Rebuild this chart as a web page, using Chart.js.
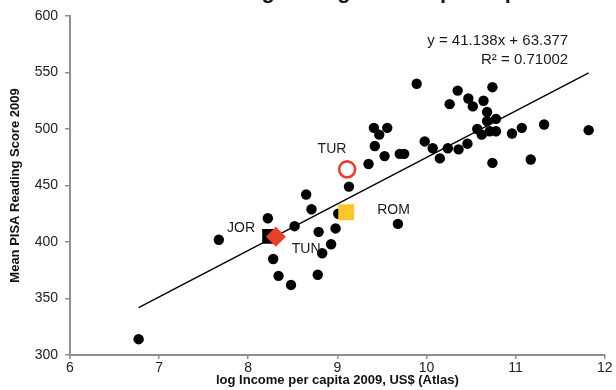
<!DOCTYPE html>
<html lang="en">
<head>
  <meta charset="UTF-8" />
  <title>PISA Reading vs log Income</title>
  <script src="https://cdn.jsdelivr.net/npm/chart.js"></script>
  <style>
    html, body { margin: 0; padding: 0; background: #fff; }
    #wrap { width: 616px; height: 390px; position: relative; }
  </style>
</head>
<body>
<div id="wrap"><canvas id="pisaChart" width="616" height="390"></canvas></div>
<script>
// values
const countryX = [6.77, 7.67, 8.22, 8.28, 8.34, 8.48, 8.52, 8.65, 8.71, 8.79, 8.78, 8.83, 8.93, 8.98, 9.01,
  9.13, 9.35, 9.41, 9.47, 9.56, 9.42, 9.53, 9.70, 9.75, 9.68, 9.89, 9.98, 10.07, 10.15, 10.24, 10.26,
  10.35, 10.36, 10.46, 10.47, 10.52, 10.64, 10.57, 10.62, 10.68, 10.68, 10.71, 10.78, 10.78, 10.74,
  10.74, 10.96, 11.07, 11.17, 11.32, 11.82];
const countryY = [314, 402, 421, 385, 370, 362, 414, 442, 429, 409, 371, 390, 398, 412, 425,
  449, 469, 501, 495, 501, 485, 476, 478, 478, 416, 540, 489, 483, 474, 483, 522,
  534, 482, 487, 527, 520, 525, 500, 495, 515, 507, 498, 509, 498, 537,
  470, 496, 501, 473, 504, 499];

const jorX = [8.24], jorY = [405];
const tunX = [8.31], tunY = [404.6];
const turX = [9.11], turY = [464.3];
const romX = [9.10], romY = [426.4];

const trendX = [6.77, 11.82];
const trendY = [341.9, 549.6];

const xTicks = [6, 7, 8, 9, 10, 11, 12];
const yTicks = [300, 350, 400, 450, 500, 550, 600];

const pointLabels = [
  { text: 'JOR', x: 7.92, y: 412 },
  { text: 'TUN', x: 8.65, y: 394 },
  { text: 'TUR', x: 8.94, y: 482 },
  { text: 'ROM', x: 9.63, y: 428 }
];
const equationLines = ['y = 41.138x + 63.377', 'R² = 0.71002'];
const eqAnchor = { x: 11.59, y: [577.7, 561] };
const chartTitle = 'Reading vs. log Income per capita';

const toXY = (xs, ys) => xs.map((x, i) => ({ x: x, y: ys[i] }));

const extraText = {
  id: 'extraText',
  afterDatasetsDraw(chart) {
    const ctx = chart.ctx, xs = chart.scales.x, ys = chart.scales.y;
    ctx.save();
    ctx.fillStyle = '#1a1a1a';
    ctx.font = '14px "Liberation Sans", Arial, sans-serif';
    ctx.textAlign = 'center';
    ctx.textBaseline = 'middle';
    pointLabels.forEach(l => ctx.fillText(l.text, xs.getPixelForValue(l.x), ys.getPixelForValue(l.y)));
    ctx.font = '15px "Liberation Sans", Arial, sans-serif';
    ctx.textAlign = 'right';
    equationLines.forEach((t, i) => ctx.fillText(t, xs.getPixelForValue(eqAnchor.x), ys.getPixelForValue(eqAnchor.y[i])));
    // title is cut off at the top of the picture
    ctx.font = 'bold 22px "Liberation Sans", Arial, sans-serif';
    ctx.textAlign = 'center';
    ctx.textBaseline = 'alphabetic';
    ctx.fillText(chartTitle, 366, -2);
    ctx.restore();
  }
};

const axisGray = '#8e8e8e';

const chart = new Chart(document.getElementById('pisaChart').getContext('2d'), {
  type: 'scatter',
  data: {
    datasets: [
      { label: 'TUN', data: toXY(tunX, tunY), pointStyle: 'rectRot', pointRadius: 10,
        backgroundColor: '#e8412b', borderColor: '#e8412b', borderWidth: 0 },
      { label: 'JOR', data: toXY(jorX, jorY), pointStyle: 'rect', pointRadius: 10.5,
        backgroundColor: '#000', borderColor: '#000', borderWidth: 0 },
      { label: 'TUR', data: toXY(turX, turY), pointStyle: 'circle', pointRadius: 8,
        backgroundColor: '#fff', borderColor: '#e5402f', borderWidth: 2.6 },
      { label: 'ROM', data: toXY(romX, romY), pointStyle: 'rect', pointRadius: 11.3,
        backgroundColor: '#fcc62c', borderColor: '#fcc62c', borderWidth: 0 },
      { label: 'trend', type: 'line', data: toXY(trendX, trendY), showLine: true,
        borderColor: '#000', borderWidth: 1.4, pointRadius: 0, fill: false },
      { label: 'countries', data: toXY(countryX, countryY), pointStyle: 'circle', pointRadius: 5.2,
        backgroundColor: '#000', borderColor: '#000', borderWidth: 0 }
    ]
  },
  options: {
    responsive: false,
    animation: false,
    layout: { padding: { left: 0, right: 7, top: 16, bottom: 0 } },
    plugins: { legend: { display: false }, tooltip: { enabled: false } },
    scales: {
      x: {
        type: 'linear', min: 6, max: 12,
        afterBuildTicks: s => { s.ticks = xTicks.map(v => ({ value: v })); },
        afterFit: s => { s.height = 35; },
        grid: { drawOnChartArea: false, color: axisGray, tickLength: 4, lineWidth: 1.5 },
        border: { display: true, color: axisGray, width: 2 },
        ticks: { color: '#222', padding: 1, maxRotation: 0,
          font: { family: '"Liberation Sans", Arial, sans-serif', size: 14 } },
        title: { display: true, text: 'log Income per capita 2009, US$ (Atlas)', color: '#111',
          padding: { top: 0, bottom: 2 },
          font: { family: '"Liberation Sans", Arial, sans-serif', size: 13, weight: 'bold' } }
      },
      y: {
        type: 'linear', min: 300, max: 600,
        afterBuildTicks: s => { s.ticks = yTicks.map(v => ({ value: v })); },
        afterFit: s => { s.width = 70; },
        grid: { drawOnChartArea: false, color: axisGray, tickLength: 5, lineWidth: 1.5 },
        border: { display: true, color: axisGray, width: 2 },
        ticks: { color: '#222', padding: 7,
          font: { family: '"Liberation Sans", Arial, sans-serif', size: 14 } },
        title: { display: true, text: 'Mean PISA Reading Score 2009', color: '#111',
          padding: { top: 8, bottom: 0 },
          font: { family: '"Liberation Sans", Arial, sans-serif', size: 13, weight: 'bold' } }
      }
    }
  },
  plugins: [extraText]
});
</script>
</body>
</html>
